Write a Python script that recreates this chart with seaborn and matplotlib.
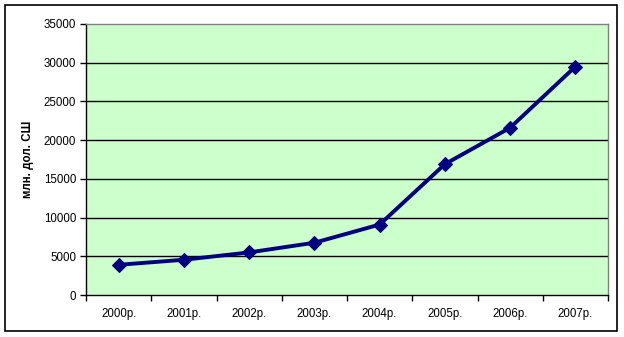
import matplotlib
matplotlib.use("Agg")
import matplotlib.pyplot as plt
import seaborn as sns
import pandas as pd
from matplotlib.patches import Rectangle

years = ["2000р.", "2001р.", "2002р.", "2003р.", "2004р.", "2005р.", "2006р.", "2007р."]
values = [3900, 4550, 5500, 6750, 9100, 16900, 21600, 29500]
y_ticks = [0, 5000, 10000, 15000, 20000, 25000, 30000, 35000]

sns.set_theme(style="white")
plt.rcParams['font.family'] = ['Liberation Sans', 'DejaVu Sans']
plt.rcParams['text.color'] = 'black'
plt.rcParams['xtick.color'] = 'black'
plt.rcParams['ytick.color'] = 'black'
plt.rcParams['axes.labelcolor'] = 'black'

df = pd.DataFrame({"year": years, "value": values, "pos": range(len(years))})

fig = plt.figure(figsize=(6.24, 3.37), dpi=100)
ax = fig.add_axes([86/624, 1 - 295/337, (608-86)/624, (295-24)/337])
ax.set_facecolor("#CCFFCC")

for t in y_ticks[1:-1]:
    ax.axhline(t, color="black", linewidth=1.0, zorder=1)

sns.lineplot(data=df, x="pos", y="value", ax=ax, color="#000080",
             linewidth=2.8, marker="D", markersize=7.5, markeredgecolor="#000080",
             zorder=3)

ax.set_xlim(-0.5, len(years) - 0.5)
ax.set_ylim(0, 35000)
ax.set_xticks(range(len(years)))
ax.set_xticklabels(years)
ax.set_xticks([i - 0.5 for i in range(len(years) + 1)], minor=True)
ax.set_yticks(y_ticks)
ax.set_yticklabels([str(v) for v in y_ticks])
ax.tick_params(axis="x", which="major", length=0, pad=9, labelsize=8.3)
ax.tick_params(axis="x", which="minor", length=4, width=1, color="black", direction="out", bottom=True)
ax.tick_params(axis="y", length=4, width=1, color="black", direction="out", left=True, labelsize=8.3, pad=3)
ax.set_xlabel("")
ax.set_ylabel("млн. дол. СШ", fontsize=8.3, fontweight="bold", labelpad=7)

for s in ["left", "bottom"]:
    ax.spines[s].set_color("black")
    ax.spines[s].set_linewidth(1.0)
for s in ["top", "right"]:
    ax.spines[s].set_color("#808080")
    ax.spines[s].set_linewidth(1.0)

fig.patches.append(Rectangle((5/624, 1 - 331/337), (617-5)/624, (331-5)/337,
                             transform=fig.transFigure, fill=False,
                             edgecolor="black", linewidth=1.2))

fig.savefig("out.png", dpi=100)
